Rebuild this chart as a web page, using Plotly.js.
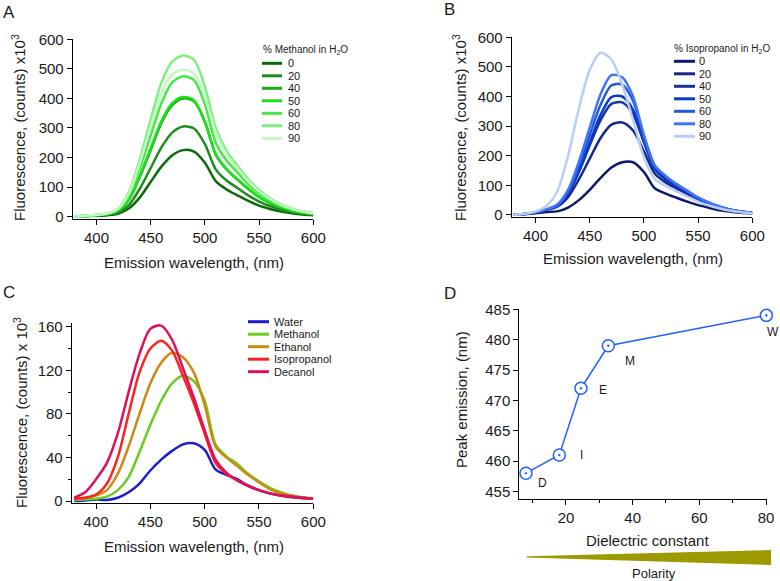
<!DOCTYPE html>
<html><head><meta charset="utf-8">
<script src="https://cdn.plot.ly/plotly-3.0.1.min.js"></script>
<style>html,body{margin:0;padding:0;background:#fff}#chart{width:780px;height:581px}</style>
</head><body><div id="chart"></div>
<script>
// ---------- DATA ----------
const wavelength = [380,390,400,410,420,430,440,450,460,470,480,490,500,510,520,530,540,550,560,570,580,590,600];

// Panel A: % Methanol in H2O
const methanolLevels = ['0','20','40','50','60','80','90'];
const meth0  = [1,2,3,5,10,28,65,118,170,208,225,220,182,120,92,72,53,37,26,17,11,7,5];
const meth20 = [1,2,4,7,14,40,95,165,235,285,305,298,245,160,122,97,72,51,36,24,16,10,7];
const meth40 = [1,2,5,9,20,58,135,225,318,378,400,390,320,210,160,125,93,66,46,31,20,13,9];
const meth50 = [1,2,5,9,21,60,140,232,325,385,405,393,322,212,162,127,95,67,47,32,21,14,9];
const meth60 = [1,2,6,10,24,72,165,275,385,455,475,462,380,250,190,150,110,78,55,37,25,16,11];
const meth80 = [1,3,6,11,28,85,195,330,455,525,545,530,440,300,222,172,127,90,63,42,28,18,12];
const meth90 = [1,3,6,11,27,80,182,305,420,482,497,485,405,285,210,163,120,85,60,40,27,17,11];

// Panel B: % Isopropanol in H2O
const isoLevels = ['0','20','40','50','60','80','90'];
const iso0  = [1,3,6,10,12,25,50,85,125,160,178,178,145,90,72,58,45,33,24,16,11,7,5];
const iso20 = [1,3,8,18,28,60,120,190,260,305,312,285,215,140,110,90,70,50,35,24,16,10,6];
const iso40 = [1,3,8,18,30,70,145,235,320,375,380,340,245,155,120,97,75,54,38,26,17,11,7];
const iso50 = [1,3,8,18,30,72,150,245,338,398,400,355,250,160,125,100,78,56,40,27,18,11,7];
const iso60 = [1,3,8,18,32,78,165,270,372,438,440,385,265,165,130,103,80,58,41,28,18,12,7];
const iso80 = [1,3,9,19,35,85,180,295,408,472,465,400,270,168,132,105,82,59,42,28,18,12,7];
const iso90 = [1,4,12,30,80,200,360,490,548,525,440,320,195,122,98,80,62,45,32,22,14,9,5];

// Panel C: pure solvents
const solventNames = ['Water','Methanol','Ethanol','Isopropanol','Decanol'];
const water       = [0,0.5,1.5,1,3,8,16,28,38,46,52,53,47,29,24,20,14,10,7,5,3.5,2.5,2];
const methanol    = [1,1.5,2,4,10,22,45,70,92,108,115,110,92,52,41,34,25,18,12,8,5,3.5,2.5];
const ethanol     = [2,3,5,10,25,50,80,108,127,136,132,118,88,50,40,32,24,17,11,7,5,3,2];
const isopropanol = [2,3,6,16,40,80,118,140,147,138,115,90,62,35,25,19,14,10,7,5,4,3,2];
const decanol     = [3,8,20,35,62,100,135,158,161,148,122,95,65,38,26,19,14,10,7,5,4,3,2];

// Panel D: peak emission vs dielectric constant
const solventCodes = ['D','I','E','M','W'];
const dielectric   = [8,18,24.5,32.7,80.1];
const peakEmission = [458,461,472,479,484];

// ---------- STYLE ----------
const methColors = ['#0b6b0b','#1f8c1f','#14b014','#1de01d','#45e845','#7def7d','#c5f7c5'];
const isoColors  = ['#0b1a6e','#13298c','#1433a3','#0a38c8','#2458e0','#3f74f2','#b9cdf6'];
const solventColors = ['#1c1ccf','#6acc1e','#cc8a12','#ff2020','#dd1155'];
const dColor = '#2360ff';

const W = 780, H = 581;
const px = v => v / W;
const py = v => 1 - v / H;
const textColor = '#1a1a1a';
const FONT = 'Liberation Sans, Arial, sans-serif';

const methSeries = [meth0, meth20, meth40, meth50, meth60, meth80, meth90];
const isoSeries  = [iso0, iso20, iso40, iso50, iso60, iso80, iso90];
const solventSeries = [water, methanol, ethanol, isopropanol, decanol];

const traces = [];
methSeries.forEach((s, i) => traces.push({
  x: wavelength, y: s, xaxis: 'x', yaxis: 'y', mode: 'lines', name: methanolLevels[i],
  line: {color: methColors[i], width: 2.5, shape: 'spline', smoothing: 0.8}, showlegend: false, hoverinfo: 'skip'
}));
isoSeries.forEach((s, i) => traces.push({
  x: wavelength, y: s, xaxis: 'x2', yaxis: 'y2', mode: 'lines', name: isoLevels[i],
  line: {color: isoColors[i], width: 2.5, shape: 'spline', smoothing: 0.8}, showlegend: false, hoverinfo: 'skip'
}));
solventSeries.forEach((s, i) => traces.push({
  x: wavelength, y: s, xaxis: 'x3', yaxis: 'y3', mode: 'lines', name: solventNames[i],
  line: {color: solventColors[i], width: 2.5, shape: 'spline', smoothing: 0.8},
  showlegend: false, hoverinfo: 'skip'
}));
traces.push({
  x: dielectric, y: peakEmission, xaxis: 'x4', yaxis: 'y4', mode: 'lines+markers',
  line: {color: dColor, width: 1.5},
  marker: {symbol: 'circle-dot', size: 12, color: '#ffffff', line: {color: dColor, width: 1.5}},
  cliponaxis: false, showlegend: false, hoverinfo: 'skip'
});

function axis(extra) {
  return Object.assign({
    showline: true, linecolor: '#000', linewidth: 1, ticks: 'outside', ticklen: 5, tickwidth: 1,
    tickcolor: '#000', showgrid: false, zeroline: false, fixedrange: true,
    tickfont: {size: 15, color: textColor, family: FONT}
  }, extra);
}

const shapes = [];
const annotations = [];

function ann(text, x, y, opts) {
  annotations.push(Object.assign({text, x: px(x), y: py(y), xref: 'paper', yref: 'paper',
    xanchor: 'center', yanchor: 'middle',
    showarrow: false, font: {size: 15, color: textColor, family: FONT}}, opts || {}));
}

// Panel letters
ann('A', 1, 12.5, {xanchor: 'left', font: {size: 17, color: textColor, family: FONT}});
ann('B', 442, 10, {xanchor: 'left', font: {size: 17, color: textColor, family: FONT}});
ann('C', 1, 292, {xanchor: 'left', font: {size: 17, color: textColor, family: FONT}});
ann('D', 442, 293.5, {xanchor: 'left', font: {size: 17, color: textColor, family: FONT}});

// Axis titles
ann('Fluorescence, (counts) x10<sup>3</sup>', 19, 128, {textangle: -90});
ann('Fluorescence, (counts) x10<sup>3</sup>', 460, 128, {textangle: -90});
ann('Fluorescence, (counts) x 10<sup>3</sup>', 20, 413, {textangle: -90});
ann('Peak emission, (nm)', 461, 400, {textangle: -90});
ann('Emission wavelength, (nm)', 194, 262);
ann('Emission wavelength, (nm)', 633, 258);
ann('Emission wavelength, (nm)', 194, 546);
ann('Dielectric constant', 647, 540);

// Legends
function legend(title, titleX, titleY, labels, colors, lineX0, lineX1, textX, row0, step, fs) {
  if (title) ann(title, titleX, titleY, {xanchor: 'left', font: {size: 10, color: textColor, family: FONT}});
  labels.forEach((lab, i) => {
    const y = row0 + i * step;
    shapes.push({type: 'line', xref: 'paper', yref: 'paper', x0: px(lineX0), x1: px(lineX1), y0: py(y), y1: py(y),
      line: {color: colors[i], width: 3}});
    ann(lab, textX, y, {xanchor: 'left', font: {size: fs, color: textColor, family: FONT}});
  });
}
legend('% Methanol in H<sub>2</sub>O', 261, 50, methanolLevels, methColors, 262, 282, 286, 63.3, 12.5, 11);
legend('% Isopropanol in H<sub>2</sub>O', 672, 48.7, isoLevels, isoColors, 674, 695, 697, 61.3, 12.5, 11);
legend(null, 0, 0, solventNames, solventColors, 248, 269, 272, 321.7, 12.5, 11);

// Panel D point labels
const labelShift = [[17, -10], [22, 0], [22, -2], [22, -15], [7, -17]];
solventCodes.forEach((c, i) => annotations.push({
  text: c, x: dielectric[i], y: peakEmission[i], xref: 'x4', yref: 'y4', showarrow: false,
  xanchor: 'center', yanchor: 'middle',
  xshift: labelShift[i][0], yshift: labelShift[i][1], font: {size: 12, color: textColor, family: FONT}
}));

// Polarity wedge
shapes.push({type: 'path', xref: 'paper', yref: 'paper',
  path: `M ${px(526.7)},${py(556.3)} L ${px(771)},${py(550)} L ${px(771)},${py(565)} L ${px(526.7)},${py(557.5)} Z`,
  fillcolor: '#9c9a00', line: {width: 0}});
ann('Polarity', 654, 573, {font: {size: 13, color: textColor, family: FONT}});

const layout = {
  width: W, height: H, margin: {l: 0, r: 0, t: 0, b: 0},
  paper_bgcolor: '#fff', plot_bgcolor: 'rgba(0,0,0,0)',
  font: {family: FONT, size: 15, color: textColor},
  showlegend: false,
  xaxis:  axis({domain: [px(72.7), px(313.3)], range: [378, 600], tickvals: [400,450,500,550,600], anchor: 'y'}),
  yaxis:  axis({domain: [py(219), py(39.3)], range: [-8, 600], dtick: 100, tick0: 0, anchor: 'x'}),
  xaxis2: axis({domain: [px(511.7), px(752.3)], range: [378, 600], tickvals: [400,450,500,550,600], anchor: 'y2'}),
  yaxis2: axis({domain: [py(217.3), py(37.3)], range: [-8, 600], dtick: 100, tick0: 0, anchor: 'x2'}),
  xaxis3: axis({domain: [px(71.7), px(313.3)], range: [377.6, 600], tickvals: [400,450,500,550,600], anchor: 'y3'}),
  yaxis3: axis({domain: [py(503.3), py(323.4)], range: [-2.1, 163], dtick: 40, tick0: 0, anchor: 'x3',
    minor: {dtick: 20, tick0: 0, ticklen: 3, tickwidth: 1, tickcolor: '#000', ticks: 'outside'}}),
  xaxis4: axis({domain: [px(519.3), px(767)], range: [6, 80.3], dtick: 20, tick0: 0, anchor: 'y4',
    minor: {dtick: 10, tick0: 0, ticklen: 3, tickwidth: 1, tickcolor: '#000', ticks: 'outside'}}),
  yaxis4: axis({domain: [py(498.7), py(309.3)], range: [453.8, 485], dtick: 5, tick0: 455, anchor: 'x4'}),
  shapes, annotations
};

Plotly.newPlot('chart', traces, layout, {staticPlot: true, displayModeBar: false});
</script>
</body></html>
